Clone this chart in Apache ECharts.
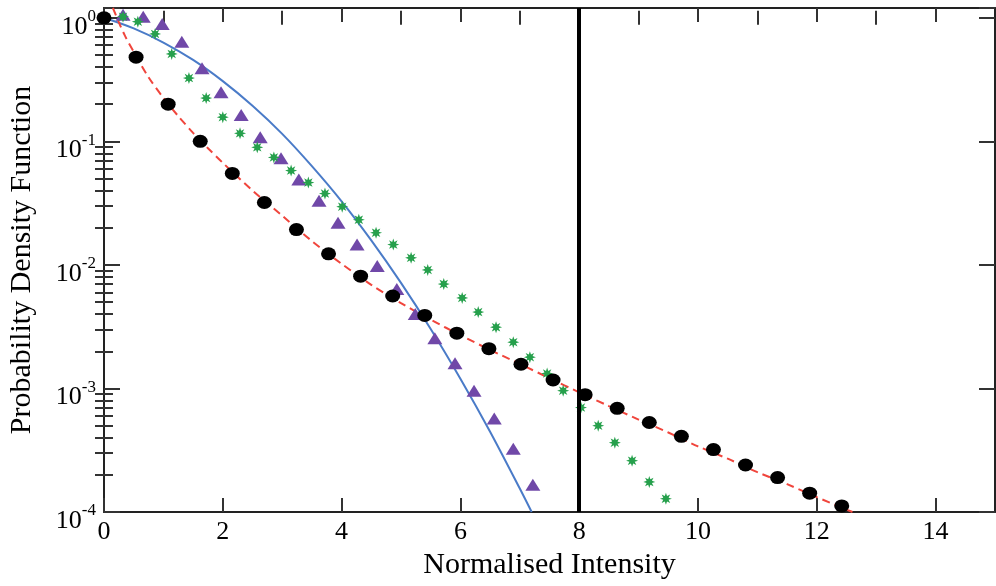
<!DOCTYPE html>
<html><head><meta charset="utf-8">
<script src="https://cdn.jsdelivr.net/npm/echarts@6/dist/echarts.min.js"></script>
<style>html,body{margin:0;padding:0;background:#fff}#c{width:996px;height:586px}</style>
</head><body><div id="c"></div>
<script>
// ---- data ----
const circleX = [0, 0.54, 1.08, 1.62, 2.16, 2.7, 3.24, 3.78, 4.32, 4.86, 5.4, 5.94, 6.48, 7.02, 7.56, 8.1, 8.64, 9.18, 9.72, 10.26, 10.8, 11.34, 11.88, 12.42];
const circleY = [1.0, 0.48, 0.2, 0.1, 0.055, 0.032, 0.0193, 0.0123, 0.0081, 0.0056, 0.0039, 0.0028, 0.0021, 0.00157, 0.00117, 0.00089, 0.00069, 0.00053, 0.00041, 0.00032, 0.00024, 0.00019, 0.000142, 0.000112];

const starX = [0.32, 0.57, 0.86, 1.14, 1.43, 1.72, 2.0, 2.29, 2.58, 2.86, 3.15, 3.44, 3.72, 4.01, 4.29, 4.58, 4.87, 5.17, 5.45, 5.72, 6.03, 6.3, 6.6, 6.89, 7.17, 7.46, 7.73, 8.03, 8.32, 8.6, 8.89, 9.18, 9.46];
const starY = [1.02, 0.93, 0.74, 0.51, 0.325, 0.224, 0.157, 0.116, 0.0894, 0.0741, 0.058, 0.0464, 0.0378, 0.0296, 0.0232, 0.0182, 0.0146, 0.0114, 0.0091, 0.007, 0.0054, 0.00415, 0.00313, 0.00237, 0.00179, 0.00132, 0.00096, 0.0007, 0.0005, 0.000364, 0.00026, 0.000175, 0.000128];

const triX = [0.32, 0.66, 0.98, 1.31, 1.65, 1.97, 2.31, 2.63, 2.98, 3.28, 3.62, 3.94, 4.26, 4.6, 4.93, 5.24, 5.57, 5.91, 6.23, 6.57, 6.89, 7.22];
const triY = [1.06, 1.02, 0.89, 0.64, 0.39, 0.25, 0.163, 0.108, 0.0728, 0.0491, 0.0331, 0.0219, 0.0146, 0.0098, 0.00638, 0.004, 0.00255, 0.0016, 0.00096, 0.00057, 0.000325, 0.000166];

const blueX = [0, 0.5, 1, 1.5, 2, 2.5, 3, 3.5, 4, 4.5, 5, 5.5, 6, 6.5, 7, 7.2];
const blueY = [1.0, 0.82, 0.63, 0.456, 0.307, 0.194, 0.115, 0.063, 0.0327, 0.0158, 0.00715, 0.00303, 0.0012, 0.000447, 0.000155, 0.0001];

const redX = [0.15, 0.25, 0.35, 0.5, 0.75, 1.0, 1.25, 1.5, 1.75, 2.0, 2.5, 3.0, 3.5, 4.0, 4.5, 5.0, 5.5, 6.0, 6.5, 7.0, 7.5, 8.0, 8.5, 9.0, 9.5, 10.0, 10.5, 11.0, 11.5, 12.0, 12.6];
const redY = [1.2, 0.92, 0.72, 0.53, 0.33, 0.225, 0.16, 0.117, 0.088, 0.067, 0.040, 0.025, 0.0156, 0.0102, 0.0069, 0.0049, 0.0036, 0.0027, 0.00205, 0.00158, 0.00121, 0.00093, 0.00072, 0.00056, 0.00044, 0.00034, 0.00027, 0.00021, 0.000168, 0.000132, 0.0001];

const thresholdX = 8;

const xMajorTicks = [0, 2, 4, 6, 8, 10, 12, 14];
const xMinorTicks = [1, 3, 5, 7, 9, 11, 13];
const yMin = 0.0001, yMax = 1.2;
const yDecadeExponents = [-4, -3, -2, -1, 0];
const yMinorMultipliers = [2, 3, 4, 5, 6, 7, 8, 9];

// ---- build ----
const zip = (a, b) => a.map((v, i) => [v, b[i]]);
const yMinorLog = [];
yDecadeExponents.forEach(e => yMinorMultipliers.forEach(m => {
  const v = Math.log10(m) + e;
  if (v <= Math.log10(yMax)) yMinorLog.push(v);
}));

// asterisk symbol
let ast = 'path://';
for (let k = 0; k < 16; k++) {
  const r = k % 2 === 0 ? 10 : 4.8;
  const a = k * Math.PI / 8;
  ast += (k === 0 ? 'M' : 'L') + (r * Math.cos(a)).toFixed(2) + ' ' + (r * Math.sin(a)).toFixed(2) + ' ';
}
ast += 'Z';

const FONT = 'Liberation Serif';
const black = '#000';
const lineStyle = {color: '#222', width: 2};
const tickStyle = {color: '#333', width: 2};

function logLabel(v) {
  const e = Math.log10(v);
  const r = Math.round(e);
  if (Math.abs(e - r) > 1e-6) return '';
  return '{b|10}{s|' + r + '}';
}

const chart = echarts.init(document.getElementById('c'), null, {renderer: 'canvas'});
chart.setOption({
  animation: false,
  backgroundColor: '#fff',
  grid: {left: 104, right: 1, top: 8, bottom: 74, containLabel: false, outerBoundsMode: 'none'},
  xAxis: [
    {type: 'value', min: 0, max: 15, position: 'bottom',
     axisLine: {show: true, onZero: false, lineStyle},
     axisTick: {show: true, inside: true, length: 14, customValues: xMajorTicks, lineStyle: tickStyle},
     axisLabel: {customValues: xMajorTicks, fontFamily: FONT, fontSize: 26, color: black, margin: 7},
     splitLine: {show: false},
     name: 'Normalised Intensity', nameLocation: 'middle', nameGap: 37,
     nameTextStyle: {fontFamily: FONT, fontSize: 30, color: black}},
    {type: 'value', min: 0, max: 15, position: 'bottom',
     axisLine: {show: false}, axisLabel: {show: false}, splitLine: {show: false},
     axisTick: {show: true, inside: true, length: 7, customValues: xMinorTicks, lineStyle: tickStyle}},
    {type: 'value', min: 0, max: 15, position: 'top',
     axisLine: {show: true, onZero: false, lineStyle},
     axisTick: {show: true, inside: true, length: 14, customValues: xMajorTicks, lineStyle: tickStyle},
     axisLabel: {show: false}, splitLine: {show: false}},
    {type: 'value', min: 0, max: 15, position: 'top',
     axisLine: {show: false}, axisLabel: {show: false}, splitLine: {show: false},
     axisTick: {show: true, inside: true, length: 7, customValues: xMinorTicks, lineStyle: tickStyle}}
  ],
  yAxis: [
    {type: 'log', logBase: 10, min: yMin, max: yMax, position: 'left',
     axisLine: {show: true, onZero: false, lineStyle},
     axisTick: {show: true, inside: true, length: 16, lineStyle: tickStyle},
     axisLabel: {formatter: logLabel, margin: 8, color: black,
       rich: {b: {fontFamily: FONT, fontSize: 26, color: black, padding: [18, 0, 0, 0]},
              s: {fontFamily: FONT, fontSize: 17, color: black, padding: [0, 0, 2, 0]}}},
     splitLine: {show: false},
     name: 'Probability Density Function', nameLocation: 'middle', nameGap: 67,
     nameTextStyle: {fontFamily: FONT, fontSize: 30, color: black}},
    {type: 'value', min: -4, max: Math.log10(yMax), position: 'left',
     axisLine: {show: false}, axisLabel: {show: false}, splitLine: {show: false},
     axisTick: {show: true, inside: true, length: 9, customValues: yMinorLog, lineStyle: tickStyle}},
    {type: 'log', logBase: 10, min: yMin, max: yMax, position: 'right',
     axisLine: {show: true, onZero: false, lineStyle},
     axisTick: {show: true, inside: true, length: 16, lineStyle: tickStyle},
     axisLabel: {show: false}, splitLine: {show: false}},
    {type: 'value', min: -4, max: Math.log10(yMax), position: 'right',
     axisLine: {show: false}, axisLabel: {show: false}, splitLine: {show: false},
     axisTick: {show: true, inside: true, length: 9, customValues: yMinorLog, lineStyle: tickStyle}}
  ],
  series: [
    {type: 'line', name: 'fit1', data: zip(blueX, blueY), smooth: 0.3, showSymbol: false,
     lineStyle: {color: '#4a7bc8', width: 2}, z: 2},
    {type: 'line', name: 'fit2', data: zip(redX, redY), smooth: 0.3, showSymbol: false,
     lineStyle: {color: '#f0453c', width: 2, type: [8, 5]}, z: 2,
     markLine: {silent: true, symbol: 'none', label: {show: false},
       lineStyle: {color: '#000', width: 4, type: 'solid'},
       data: [{xAxis: thresholdX}]}},
    {type: 'scatter', name: 'tri', data: zip(triX, triY), symbol: 'triangle', symbolSize: [15, 12],
     itemStyle: {color: '#7048a8', opacity: 1}, z: 3},
    {type: 'scatter', name: 'star', data: zip(starX, starY), symbol: ast, symbolSize: 12,
     itemStyle: {color: '#26a04c', opacity: 1}, z: 4},
    {type: 'scatter', name: 'circ', data: zip(circleX, circleY), symbol: 'circle', symbolSize: [15, 13],
     itemStyle: {color: '#000', opacity: 1}, z: 5}
  ]
});
</script>
</body></html>
